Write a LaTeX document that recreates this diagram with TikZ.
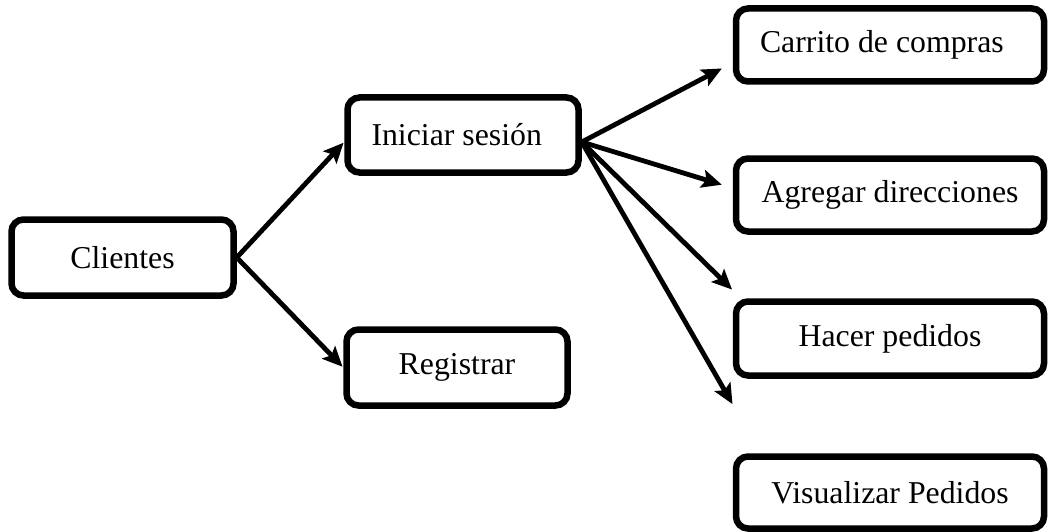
\documentclass[tikz,border=0pt]{standalone}
\usepackage{fontspec}
\setmainfont{Liberation Serif}
\usetikzlibrary{arrows.meta}
\begin{document}
\begin{tikzpicture}[x=1pt,y=-1pt,
  box/.style={draw=black, line width=6.5pt, rounded corners=12pt, fill=white,
    inner sep=0pt, align=center,
    font=\fontsize{31.8}{38}\selectfont},
  leftbox/.style={box, align=flush left},
  conn/.style={line width=4.8pt, -{Stealth[length=20pt,width=18pt,inset=4pt]}, shorten >=1pt}
]
\useasboundingbox (0,0) rectangle (1049,532);
\node[box, minimum width=222pt, minimum height=76pt] (cli) at (122.5,257.5) {Clientes};
\node[leftbox, minimum width=231pt, minimum height=75pt, text width=183pt] (ini) at (463,135) {Iniciar sesión};
\node[box, minimum width=221pt, minimum height=76pt] (reg) at (457,367.5) {Registrar};
\node[leftbox, minimum width=308pt, minimum height=73pt, text width=260pt] (car) at (890,45) {Carrito de compras};
\node[box, minimum width=308pt, minimum height=73pt] (agr) at (890,195) {Agregar direcciones};
\node[box, minimum width=308pt, minimum height=74pt] (hac) at (890,338.5) {Hacer pedidos};
\node[box, minimum width=308pt, minimum height=72pt] (vis) at (890,492.5) {Visualizar Pedidos};
\coordinate (e4) at (733,405);

\draw[conn] (cli.east) -- ([yshift=-7pt]ini.west);
\draw[conn] (cli.east) -- (reg.west);
\draw[conn] ([yshift=-7pt]ini.east) -- ([xshift=-10pt,yshift=-23pt]car.west);
\draw[conn] ([yshift=-7pt]ini.east) -- ([xshift=-10pt,yshift=10pt]agr.west);
\draw[conn] ([yshift=-7pt]ini.east) -- ([yshift=8pt]hac.north west);
\draw[conn] ([yshift=-7pt]ini.east) -- (e4);
\end{tikzpicture}
\end{document}
